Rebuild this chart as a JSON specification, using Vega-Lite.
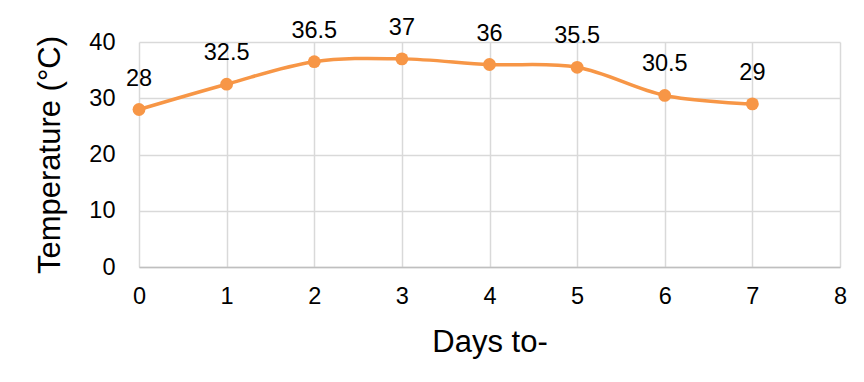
{
  "$schema": "https://vega.github.io/schema/vega-lite/v6.json",
  "width": 701,
  "height": 225,
  "autosize": {"type": "none"},
  "padding": {"left": 139, "top": 42, "right": 24, "bottom": 115},
  "background": "white",
  "config": {
    "font": "Liberation Sans",
    "view": {"stroke": null},
    "axis": {
      "labelFont": "Liberation Sans",
      "titleFont": "Liberation Sans",
      "labelColor": "#000000",
      "titleColor": "#000000",
      "titleFontWeight": "normal",
      "gridColor": "#D9D9D9",
      "gridWidth": 1.5,
      "domain": false,
      "ticks": false,
      "labelOverlap": false
    }
  },
  "data": {
    "values": [
      {"day": 0, "temp": 28},
      {"day": 1, "temp": 32.5},
      {"day": 2, "temp": 36.5},
      {"day": 3, "temp": 37},
      {"day": 4, "temp": 36},
      {"day": 5, "temp": 35.5},
      {"day": 6, "temp": 30.5},
      {"day": 7, "temp": 29}
    ]
  },
  "encoding": {
    "x": {
      "field": "day",
      "type": "quantitative",
      "scale": {"domain": [0, 8], "nice": false},
      "axis": {
        "title": "Days to-",
        "values": [0, 1, 2, 3, 4, 5, 6, 7, 8],
        "domain": true,
        "domainColor": "#BFBFBF",
        "domainWidth": 1.5,
        "labelFontSize": 23.5,
        "labelPadding": 17,
        "titleFontSize": 31,
        "titlePadding": 20,
        "labelFlush": false
      }
    },
    "y": {
      "field": "temp",
      "type": "quantitative",
      "scale": {"domain": [0, 40], "nice": false},
      "axis": {
        "title": "Temperature (°C)",
        "values": [0, 10, 20, 30, 40],
        "labelFontSize": 23.5,
        "labelPadding": 24,
        "titleFontSize": 31,
        "titlePadding": 22,
        "labelFlush": false
      }
    }
  },
  "layer": [
    {
      "mark": {"type": "line", "color": "#F79646", "strokeWidth": 3.5, "interpolate": "catmull-rom"}
    },
    {
      "mark": {"type": "point", "filled": true, "color": "#F79646", "opacity": 1, "size": 165}
    },
    {
      "mark": {"type": "text", "fontSize": 23.5, "baseline": "alphabetic", "dy": -24, "color": "#000000"},
      "encoding": {"text": {"field": "temp", "type": "quantitative"}}
    }
  ]
}
